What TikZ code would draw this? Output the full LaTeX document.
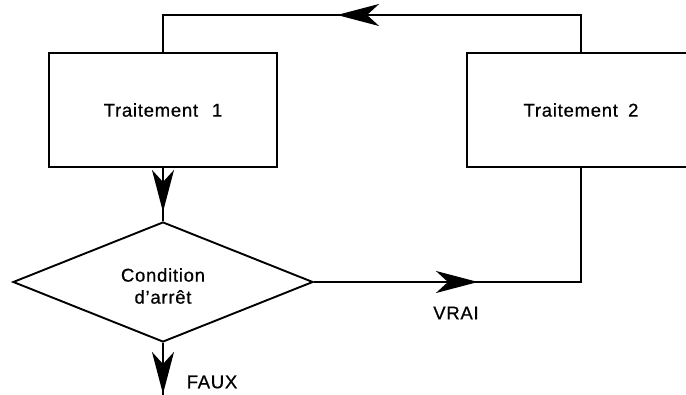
\documentclass[tikz,border=0pt]{standalone}
\usepackage{fontspec}
\setmainfont{Liberation Sans}[LetterSpace=4,FakeBold=0.6]
\usetikzlibrary{shapes.geometric,arrows.meta,decorations.markings}
\begin{document}
\begin{tikzpicture}[x=1pt,y=-1pt,line width=1.9pt,
  every node/.style={font=\fontsize{18.5}{22}\selectfont},
  procbox/.style={draw,rectangle,minimum width=228pt,minimum height=114pt,inner sep=0pt},
  testbox/.style={draw,diamond,aspect=2.5,minimum width=300pt,minimum height=120pt,inner sep=0pt},
  midarrow/.style={postaction=decorate,decoration={markings,
      mark=at position #1 with {\arrow{Stealth[length=42pt,width=22pt,inset=12pt]}}}}
]
\useasboundingbox (0,0) rectangle (686,395);
\clip (0,0) rectangle (686,395);

% processing blocks and the stop test
\node[procbox] (t1) at (163,110) {Traitement\hspace{0.75em}1};
\node[procbox] (t2) at (581,110) {Traitement\hspace{0.55em}2};
\node[testbox,label={[align=center,yshift=-4pt]center:Condition\\d'arrêt}] (cond) at (163,282) {};

\coordinate (top) at (0,15);
\coordinate (out) at (163,410);

% loop back from block 2 to block 1
\draw[midarrow=281pt] (t2.north) -- (t2.north |- top) -- (t1.north |- top) -- (t1.north);
% block 1 into the test
\draw[midarrow=44pt] (t1.south) -- (cond.north);
% true branch to block 2
\draw[midarrow=164pt] (cond.east) -- (cond.east -| t2.south) -- (t2.south);
% false branch leaves the loop
\draw[midarrow=51pt] (cond.south) -- (out);

\node (vrai) at (456,313) {VRAI};
\node (faux) at (212,382) {FAUX};
\end{tikzpicture}
\end{document}
